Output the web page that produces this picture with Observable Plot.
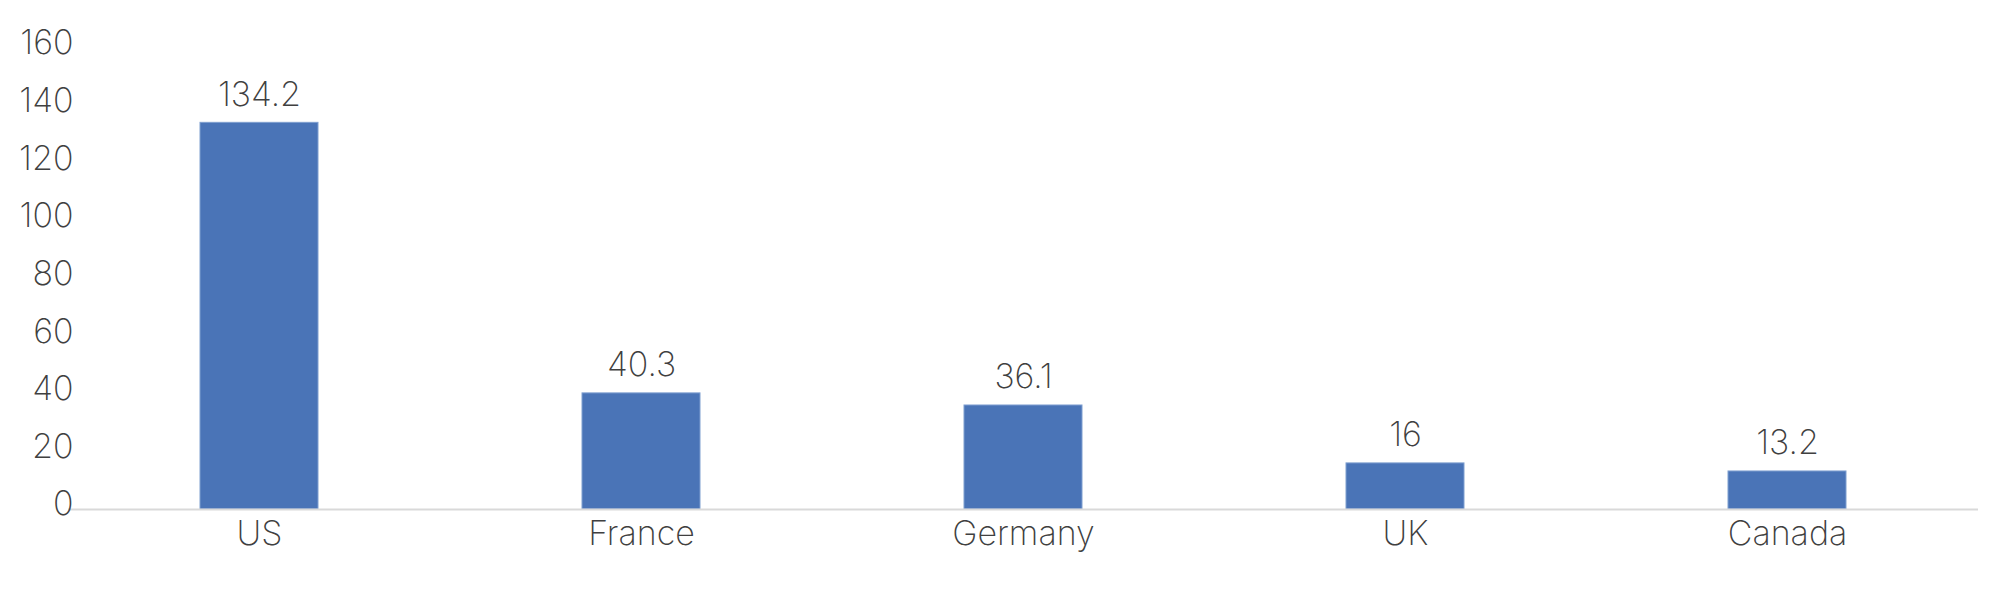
<!DOCTYPE html>
<html>
<head>
<meta charset="utf-8">
<script src="https://cdn.jsdelivr.net/npm/d3@7"></script>
<script src="https://cdn.jsdelivr.net/npm/@observablehq/plot@0.6"></script>
<style>
  html, body { margin: 0; padding: 0; background: #fff; }
  #chart svg { display: block; }
</style>
</head>
<body>
<div id="chart"></div>
<script>
const categories = ["US", "France", "Germany", "UK", "Canada"];
const values = [134.2, 40.3, 36.1, 16, 13.2];
const valueLabels = ["134.2", "40.3", "36.1", "16", "13.2"];
const yTicks = [0, 20, 40, 60, 80, 100, 120, 140, 160];

const data = categories.map((c, i) => ({category: c, value: values[i], label: valueLabels[i]}));

const font = "Inter, 'Open Sans', sans-serif";
const textColor = "#404040";
const fs = 34;

const chart = Plot.plot({
  width: 2000,
  height: 597,
  marginLeft: 68,
  marginRight: 22,
  marginTop: 48,
  marginBottom: 88,
  style: {fontFamily: font, background: "#fff"},
  x: {domain: categories, paddingInner: 0.69, paddingOuter: 0.345, axis: null},
  y: {domain: [0, 160], axis: null},
  marks: [
    Plot.barY(data, {x: "category", y: "value", fill: "#4a74b7", stroke: "#7f9fd0", strokeWidth: 1}),
    Plot.ruleY([0], {stroke: "#d9d9d9", strokeWidth: 2}),
    Plot.text(yTicks, {y: d => d, text: d => String(d), frameAnchor: "left", textAnchor: "end", dx: 5, dy: -5, fontSize: fs, fontWeight: 200, fill: textColor, lineAnchor: "middle"}),
    Plot.text(data, {x: "category", y: 0, text: "category", dy: 25, fontSize: fs, fontWeight: 200, fill: textColor, lineAnchor: "middle"}),
    Plot.text(data, {x: "category", y: "value", text: "label", dy: -28, fontSize: fs, fontWeight: 200, fill: textColor, lineAnchor: "middle"})
  ]
});
document.getElementById("chart").appendChild(chart);
</script>
</body>
</html>
